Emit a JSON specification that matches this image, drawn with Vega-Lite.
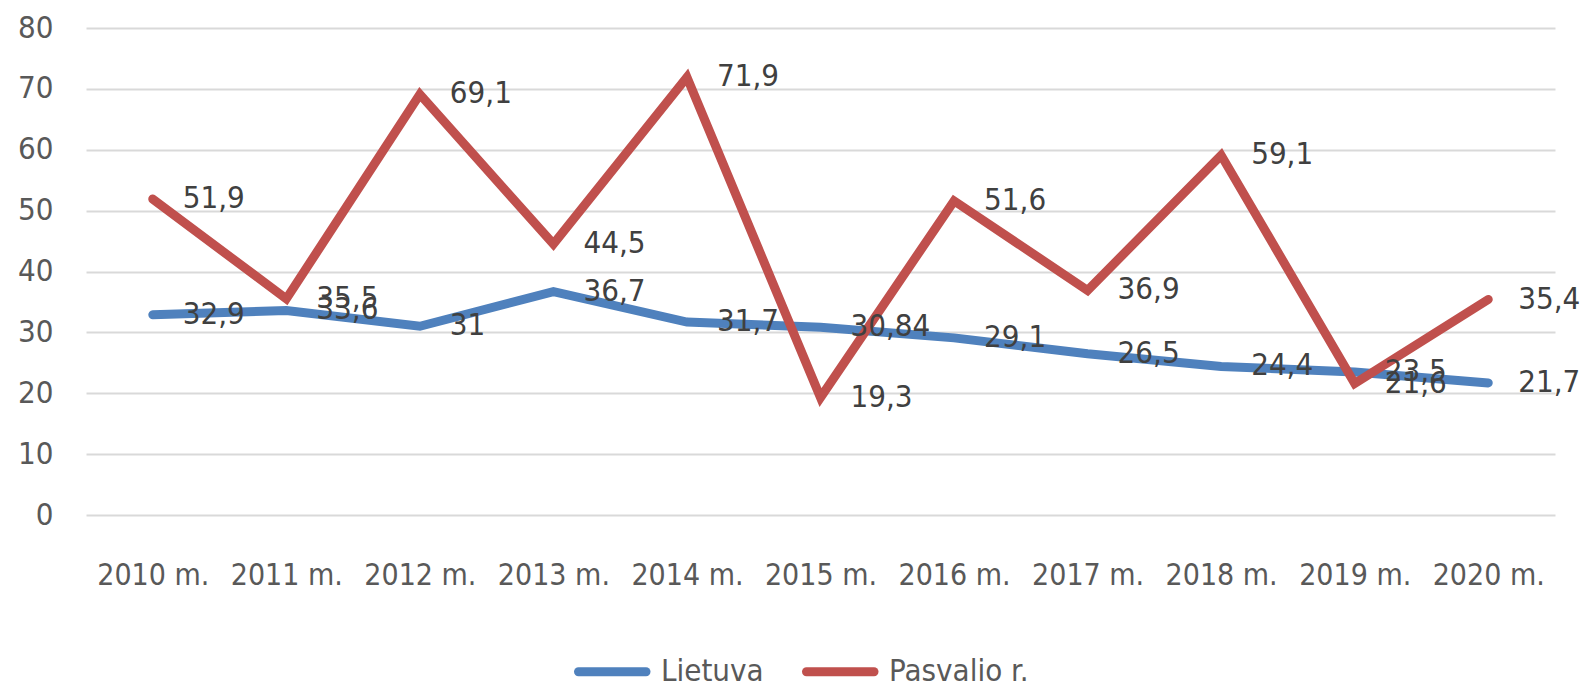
{
  "$schema": "https://vega.github.io/schema/vega-lite/v6.json",
  "autosize": {"type": "none"},
  "width": 1469,
  "height": 487,
  "padding": {"left": 86, "top": 28, "right": 39, "bottom": 171},
  "background": "white",
  "config": {
    "locale": {"number": {"decimal": ",", "thousands": " ", "grouping": [3], "currency": ["", " €"]}},
    "view": {"stroke": null},
    "font": "DejaVu Sans Condensed, sans-serif"
  },
  "data": {"values": [
    {"year": "2010 m.", "series": "Lietuva", "value": 32.9},
    {"year": "2011 m.", "series": "Lietuva", "value": 33.6},
    {"year": "2012 m.", "series": "Lietuva", "value": 31},
    {"year": "2013 m.", "series": "Lietuva", "value": 36.7},
    {"year": "2014 m.", "series": "Lietuva", "value": 31.7},
    {"year": "2015 m.", "series": "Lietuva", "value": 30.84},
    {"year": "2016 m.", "series": "Lietuva", "value": 29.1},
    {"year": "2017 m.", "series": "Lietuva", "value": 26.5},
    {"year": "2018 m.", "series": "Lietuva", "value": 24.4},
    {"year": "2019 m.", "series": "Lietuva", "value": 23.5},
    {"year": "2020 m.", "series": "Lietuva", "value": 21.7},
    {"year": "2010 m.", "series": "Pasvalio r.", "value": 51.9},
    {"year": "2011 m.", "series": "Pasvalio r.", "value": 35.5},
    {"year": "2012 m.", "series": "Pasvalio r.", "value": 69.1},
    {"year": "2013 m.", "series": "Pasvalio r.", "value": 44.5},
    {"year": "2014 m.", "series": "Pasvalio r.", "value": 71.9},
    {"year": "2015 m.", "series": "Pasvalio r.", "value": 19.3},
    {"year": "2016 m.", "series": "Pasvalio r.", "value": 51.6},
    {"year": "2017 m.", "series": "Pasvalio r.", "value": 36.9},
    {"year": "2018 m.", "series": "Pasvalio r.", "value": 59.1},
    {"year": "2019 m.", "series": "Pasvalio r.", "value": 21.6},
    {"year": "2020 m.", "series": "Pasvalio r.", "value": 35.4}
  ]},
  "encoding": {
    "x": {"field": "year", "type": "ordinal", "sort": null,
      "scale": {"type": "point", "padding": 0.5},
      "axis": {"title": null, "domain": false, "ticks": false, "grid": false, "labelAngle": 0, "labelOverlap": false,
        "labelFontSize": 30, "labelColor": "#595959", "labelPadding": 45}},
    "y": {"field": "value", "type": "quantitative",
      "scale": {"domain": [0, 80], "nice": false},
      "axis": {"title": null, "domain": false, "ticks": false, "values": [0,10,20,30,40,50,60,70,80], "labelOverlap": false,
        "gridColor": "#d9d9d9", "gridWidth": 2, "labelFontSize": 31, "labelColor": "#595959", "labelPadding": 33}},
    "color": {"field": "series", "type": "nominal",
      "scale": {"domain": ["Lietuva", "Pasvalio r."], "range": ["#4f81bd", "#c0504d"]},
      "legend": {"title": null, "orient": "none", "direction": "horizontal", "legendX": 488, "legendY": 624,
        "symbolType": "M-1,0H3.5", "symbolSize": 900, "symbolStrokeWidth": 9, "labelFontSize": 31,
        "labelColor": "#595959", "labelOffset": 48, "columnPadding": 24,
        "encode": {"symbols": {"update": {"strokeCap": {"value": "round"}}}}}}
  },
  "layer": [
    {"mark": {"type": "line", "strokeWidth": 9, "strokeCap": "round", "strokeJoin": "miter"}},
    {"mark": {"type": "text", "align": "left", "baseline": "middle", "dx": 30, "fontSize": 31, "color": "#404040"},
      "encoding": {"text": {"field": "value", "type": "quantitative", "format": "~g"}, "color": {"value": "#404040"}}}
  ]
}
